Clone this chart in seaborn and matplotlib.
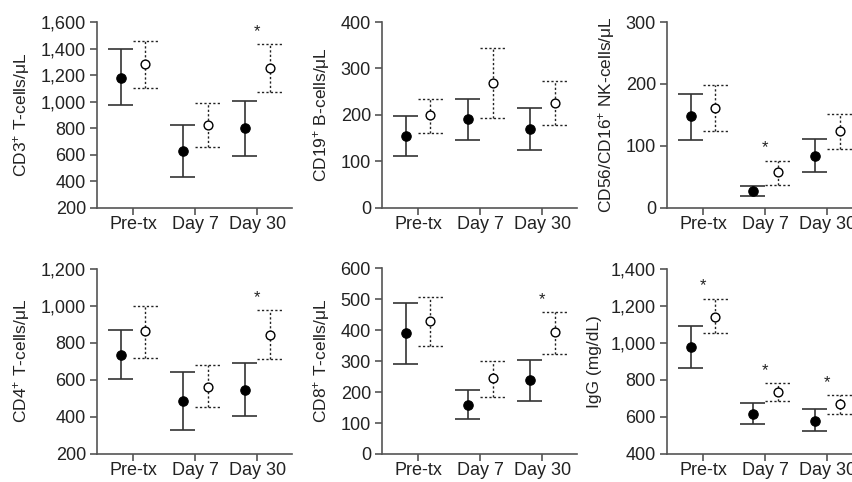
import numpy as np
import pandas as pd
import seaborn as sns
import matplotlib.pyplot as plt
from matplotlib.ticker import StrMethodFormatter, MultipleLocator

timepoints = ['Pre-tx', 'Day 7', 'Day 30']

# filled group (a) and open group (b): mean, lower, upper
cd3_a_mean = [1180, 625, 800]
cd3_a_lo = [970, 432, 590]
cd3_a_hi = [1395, 825, 1005]
cd3_b_mean = [1280, 820, 1252]
cd3_b_lo = [1100, 658, 1068]
cd3_b_hi = [1460, 990, 1435]
cd3_sig = [False, False, True]

cd19_a_mean = [155, 190, 170]
cd19_a_lo = [111, 145, 123]
cd19_a_hi = [197, 233, 214]
cd19_b_mean = [199, 269, 225]
cd19_b_lo = [161, 194, 178]
cd19_b_hi = [234, 343, 272]
cd19_sig = [False, False, False]

nk_a_mean = [148, 27, 84]
nk_a_lo = [109, 19, 58]
nk_a_hi = [184, 34, 110]
nk_b_mean = [161, 57, 123]
nk_b_lo = [124, 37, 94]
nk_b_hi = [198, 76, 151]
nk_sig = [False, True, False]

cd4_a_mean = [735, 485, 545]
cd4_a_lo = [606, 327, 407]
cd4_a_hi = [870, 642, 688]
cd4_b_mean = [862, 562, 843]
cd4_b_lo = [720, 453, 713]
cd4_b_hi = [1000, 678, 975]
cd4_sig = [False, False, True]

cd8_a_mean = [390, 159, 239]
cd8_a_lo = [291, 114, 172]
cd8_a_hi = [488, 206, 305]
cd8_b_mean = [430, 245, 394]
cd8_b_lo = [350, 184, 322]
cd8_b_hi = [508, 302, 460]
cd8_sig = [False, False, True]

igg_a_mean = [976, 615, 578]
igg_a_lo = [866, 560, 522]
igg_a_hi = [1092, 673, 640]
igg_b_mean = [1141, 735, 670]
igg_b_lo = [1052, 686, 617]
igg_b_hi = [1238, 783, 720]
igg_sig = [True, True, True]

panels = [
    ('$\\mathregular{CD3^{+}}$ T-cells/μL', (200, 1600), 200,
     cd3_a_mean, cd3_a_lo, cd3_a_hi, cd3_b_mean, cd3_b_lo, cd3_b_hi, cd3_sig),
    ('$\\mathregular{CD19^{+}}$ B-cells/μL', (0, 400), 100,
     cd19_a_mean, cd19_a_lo, cd19_a_hi, cd19_b_mean, cd19_b_lo, cd19_b_hi, cd19_sig),
    ('$\\mathregular{CD56/CD16^{+}}$ NK-cells/μL', (0, 300), 100,
     nk_a_mean, nk_a_lo, nk_a_hi, nk_b_mean, nk_b_lo, nk_b_hi, nk_sig),
    ('$\\mathregular{CD4^{+}}$ T-cells/μL', (200, 1200), 200,
     cd4_a_mean, cd4_a_lo, cd4_a_hi, cd4_b_mean, cd4_b_lo, cd4_b_hi, cd4_sig),
    ('$\\mathregular{CD8^{+}}$ T-cells/μL', (0, 600), 100,
     cd8_a_mean, cd8_a_lo, cd8_a_hi, cd8_b_mean, cd8_b_lo, cd8_b_hi, cd8_sig),
    ('IgG (mg/dL)', (400, 1400), 200,
     igg_a_mean, igg_a_lo, igg_a_hi, igg_b_mean, igg_b_lo, igg_b_hi, igg_sig),
]

sns.set_theme(style='ticks')
plt.rcParams['font.family'] = ['Liberation Sans', 'DejaVu Sans']
plt.rcParams['mathtext.fontset'] = 'custom'
plt.rcParams['mathtext.rm'] = 'Liberation Sans'

W, H = 853, 482
fig = plt.figure(figsize=(W / 100, H / 100), dpi=100)

col_left = [97, 382, 667]
row_top = [22, 268.5]
ax_w, ax_h = 195, 185.5
off = 0.2
axis_col = '#555555'
dotted = (0, (1.6, 1.6))

for k, (label, ylim, step, am, alo, ahi, bm, blo, bhi, sig) in enumerate(panels):
    r, c = divmod(k, 3)
    ax = fig.add_axes([col_left[c] / W, 1 - (row_top[r] + ax_h) / H, ax_w / W, ax_h / H])
    x = np.arange(len(timepoints))

    # filled group
    xa = x - off
    ax.vlines(xa, alo, ahi, color='#333333', lw=1.2, zorder=2)
    ax.hlines(alo, xa - off, xa + off, color='#333333', lw=1.2, zorder=2)
    ax.hlines(ahi, xa - off, xa + off, color='#333333', lw=1.2, zorder=2)
    # open group
    xb = x + off
    ax.vlines(xb, blo, bhi, color='#222222', lw=1.0, linestyles=[dotted], zorder=2)
    ax.hlines(blo, xb - off, xb + off, color='#222222', lw=1.0, linestyles=[dotted], zorder=2)
    ax.hlines(bhi, xb - off, xb + off, color='#222222', lw=1.0, linestyles=[dotted], zorder=2)

    df_a = pd.DataFrame({'x': xa, 'y': am})
    df_b = pd.DataFrame({'x': xb, 'y': bm})
    sns.scatterplot(data=df_a, x='x', y='y', ax=ax, s=46, color='black',
                    edgecolor='black', linewidth=0.8, zorder=3)
    sns.scatterplot(data=df_b, x='x', y='y', ax=ax, s=40, color='white',
                    edgecolor='black', linewidth=1.0, zorder=3)

    for i, s in enumerate(sig):
        if s:
            ax.annotate('*', xy=(x[i], bhi[i]), xytext=(0, 9), textcoords='offset points',
                        ha='center', va='center', fontsize=12, color='#222222')

    ax.set_xlim(-0.58, 2.56)
    ax.set_ylim(*ylim)
    ax.yaxis.set_major_locator(MultipleLocator(step))
    ax.yaxis.set_major_formatter(StrMethodFormatter('{x:,.0f}'))
    ax.set_xticks(x)
    ax.set_xticklabels(timepoints)
    ax.set_xlabel('')
    ax.set_ylabel(label, fontsize=12.5, color='#222222', labelpad=6)
    sns.despine(ax=ax)
    for sp in ['left', 'bottom']:
        ax.spines[sp].set_color(axis_col)
        ax.spines[sp].set_linewidth(1.2)
    ax.tick_params(length=5, width=1.2, color=axis_col, labelsize=13, labelcolor='#222222')
    ax.tick_params(axis='x', pad=1)
    ax.tick_params(axis='y', pad=3)

fig.savefig('out.png', dpi=100)
